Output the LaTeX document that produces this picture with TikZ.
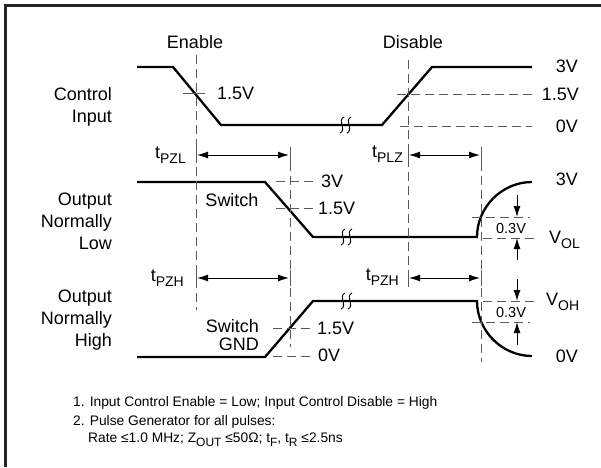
\documentclass[tikz,border=0pt]{standalone}
\usepackage{fontspec}
\setmainfont{Liberation Sans}
\usetikzlibrary{arrows.meta}

\newcommand{\lo}[2][14]{\raisebox{-0.28em}{\fontsize{#1}{#1}\selectfont #2}}

\begin{document}
\begin{tikzpicture}[x=1pt,y=-1pt,
    wave/.style={line width=2.3pt},
    guide/.style={draw=black!65,line width=0.9pt,dash pattern=on 9pt off 5pt},
    hair/.style={draw=black!65,line width=0.9pt},
    span/.style={line width=1pt,{Latex[length=11pt,width=7pt]}-{Latex[length=11pt,width=7pt]}},
    ptr/.style={line width=1pt,-{Latex[length=11pt,width=7pt]}},
    brk/.style={line width=0.9pt},
    lbl/.style={font=\fontsize{18}{22}\selectfont,inner sep=0pt},
    minor/.style={font=\fontsize{14.5}{15}\selectfont,inner sep=0pt},
    note/.style={font=\fontsize{13.8}{18}\selectfont,inner sep=0pt,anchor=west}]
    \useasboundingbox (0,0) rectangle (601,467);
    \draw[line width=3pt,black!85] (5,467) -- (5,5) -- (601,5);

    % waveforms
    \draw[wave] (137,67) -- (173,67) -- (221,125) -- (382,125) -- (432,67) -- (532,67);
    \draw[wave] (137,182) -- (265,182) -- (313,237) -- (477,237) .. controls (477,207) and (502,182) .. (532,182);
    \draw[wave] (137,357) -- (265,357) -- (313,301) -- (477,301) .. controls (477,331) and (502,356) .. (532,356);
    \foreach \x/\y in {342/125,349/125,343/237,350/237,343/301,350/301}
        \draw[brk] (\x-2,\y+8) .. controls (\x+5,\y+5) and (\x-5,\y-5) .. (\x+2,\y-8);

    % guide lines
    \draw[guide] (196,55) -- (196,310);
    \draw[guide] (290,148) -- (290,347);
    \draw[guide] (408,60) -- (408,287);
    \draw[guide] (481,148) -- (481,362);
    \draw[hair] (183,93) -- (205,93);
    \draw[guide] (397,94) -- (532,94);
    \draw[guide] (400,126) -- (532,126);
    \draw[guide] (276,181) -- (314,181);
    \draw[guide] (276,208) -- (314,208);
    \draw[guide] (273,328) -- (314,328);
    \draw[guide] (273,356) -- (314,356);

    % timing spans
    \foreach \x/\y in {196/155,290/155,408/155,481/155,196/278,290/278,408/278,481/278}
        \draw[hair] (\x,\y-8) -- (\x,\y+8);
    \draw[span] (197,155) -- (289,155);
    \draw[span] (409,155) -- (480,155);
    \draw[span] (197,278) -- (289,278);
    \draw[span] (409,278) -- (480,278);

    % 0.3V margins
    \draw[guide] (472,217) -- (530,217);
    \draw[guide] (483,238) -- (538,238);
    \draw[ptr] (517,195) -- (517,217);
    \draw[ptr] (517,260) -- (517,238);
    \draw[guide] (483,301) -- (538,301);
    \draw[guide] (472,322) -- (530,322);
    \draw[ptr] (517,279) -- (517,301);
    \draw[ptr] (517,345) -- (517,322);
    \node[minor] (dlo) at (511,228) {0.3V};
    \node[minor] (dhi) at (511,312) {0.3V};

    % labels
    \node[lbl] (enable) at (195,42) {Enable};
    \node[lbl] (disable) at (413,42) {Disable};
    \node[lbl,align=right,anchor=east] (ctrl) at (112,107) {Control\\Input};
    \node[lbl,align=right,anchor=east] (outlow) at (112,221) {Output\\Normally\\Low};
    \node[lbl,align=right,anchor=east] (outhigh) at (112,320) {Output\\Normally\\High};
    \node[lbl] (swlo) at (232,200) {Switch};
    \node[lbl,align=right,anchor=east,font=\fontsize{18}{18.5}\selectfont] (swhi) at (259,335) {Switch\\GND};
    \node[lbl,anchor=east] (tpzl) at (186,155) {t\lo{PZL}};
    \node[lbl,anchor=east] (tplz) at (403,154) {t\lo{PLZ}};
    \node[lbl,anchor=east] (tpzha) at (184,278) {t\lo{PZH}};
    \node[lbl,anchor=east] (tpzhb) at (399,277) {t\lo{PZH}};
    \node[lbl,anchor=west] (cmid) at (217,93) {1.5V};
    \node[lbl,anchor=east] (chi) at (578,66) {3V};
    \node[lbl,anchor=east] (cmidr) at (579,94) {1.5V};
    \node[lbl,anchor=east] (clow) at (578,126) {0V};
    \node[lbl,anchor=west] (lhi) at (321,181) {3V};
    \node[lbl,anchor=west] (lmid) at (318,208) {1.5V};
    \node[lbl,anchor=west] (hmid) at (317,328) {1.5V};
    \node[lbl,anchor=west] (hlow) at (318,355) {0V};
    \node[lbl,anchor=east] (rhi) at (578,179) {3V};
    \node[lbl,anchor=west] (vol) at (549,240) {V\lo{OL}};
    \node[lbl,anchor=west] (voh) at (546,302) {V\lo{OH}};
    \node[lbl,anchor=east] (rlow) at (578,356) {0V};

    % notes
    \node[note] (noteone) at (73,403) {1. Input Control Enable = Low; Input Control Disable = High};
    \node[note] (notetwo) at (73,422) {2. Pulse Generator for all pulses:};
    \node[note] (notethree) at (88,440) {Rate ≤1.0 MHz; Z\lo[12]{OUT} ≤50Ω; t\lo[12]{F}, t\lo[12]{R} ≤2.5ns};
\end{tikzpicture}
\end{document}
